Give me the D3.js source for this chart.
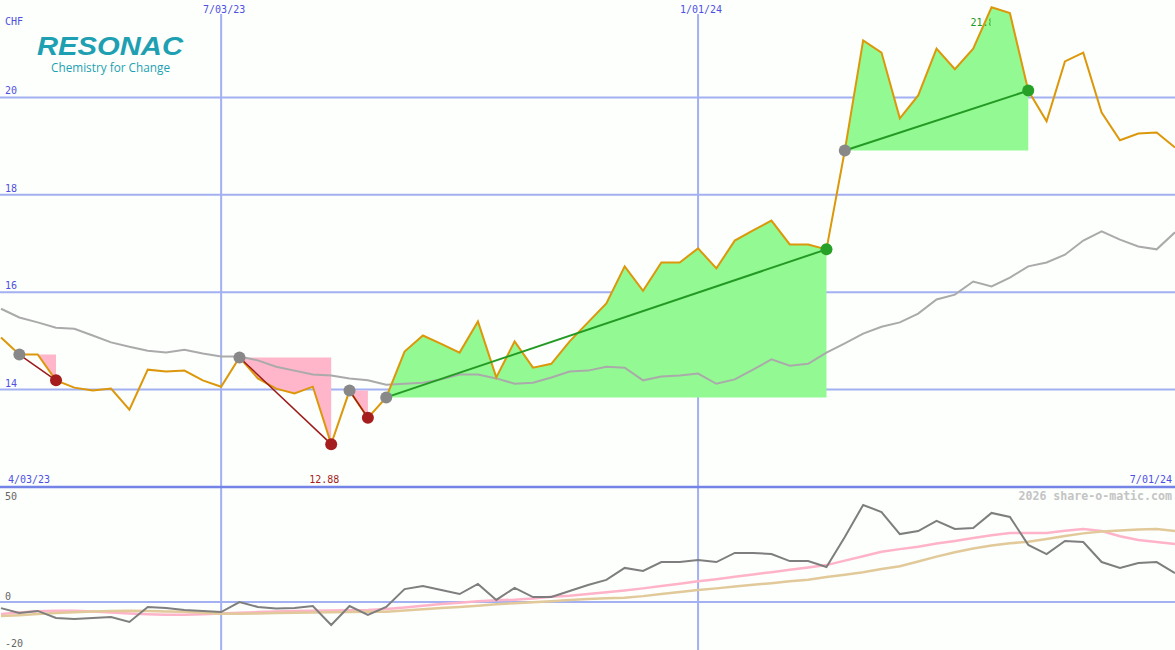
<!DOCTYPE html>
<html>
<head>
<meta charset="utf-8">
<script src="https://cdn.jsdelivr.net/npm/d3@7"></script>
<style>
  html, body { margin: 0; padding: 0; background: #fcfffc; }
  svg { display: block; }
</style>
</head>
<body>
<svg id="chart" width="1175" height="650"></svg>
<script>
// ---------------- DATA ----------------
const firstWeek = Date.UTC(2023, 3, 10);   // first weekly point
const lastWeek = Date.UTC(2024, 6, 1);     // last weekly point

// weekly closing price (CHF)
const prices = [15.07, 14.72, 14.72, 14.19, 14.04, 13.98, 14.02, 13.59, 14.41, 14.37,
  14.39, 14.19, 14.06, 14.66, 14.23, 14.02, 13.92, 14.06, 12.88, 13.98,
  13.42, 13.84, 14.78, 15.11, 14.94, 14.76, 15.40, 14.25, 14.99, 14.45,
  14.53, 14.99, 15.38, 15.77, 16.53, 16.03, 16.61, 16.61, 16.90, 16.49,
  17.06, 17.27, 17.47, 16.98, 16.98, 16.88, 18.91, 21.17, 20.92, 19.57,
  20.04, 21.00, 20.58, 21.00, 21.85, 21.73, 20.14, 19.51, 20.74, 20.92,
  19.69, 19.12, 19.26, 19.28, 18.97];

// moving average of price (grey line)
const movingAvg = [15.66, 15.48, 15.38, 15.27, 15.25, 15.11, 14.97, 14.88, 14.80, 14.76,
  14.82, 14.74, 14.68, 14.68, 14.60, 14.47, 14.39, 14.31, 14.29, 14.23,
  14.19, 14.10, 14.12, 14.14, 14.21, 14.31, 14.31, 14.23, 14.12, 14.14,
  14.25, 14.37, 14.39, 14.47, 14.45, 14.19, 14.27, 14.29, 14.33, 14.12,
  14.21, 14.41, 14.62, 14.49, 14.53, 14.76, 14.95, 15.15, 15.29, 15.38,
  15.56, 15.85, 15.95, 16.22, 16.12, 16.30, 16.53, 16.61, 16.77, 17.06,
  17.25, 17.08, 16.94, 16.88, 17.23];

// lower panel: oscillator (dark grey) and its two averages (pink, tan)
const oscillator = [-2.6, -4.7, -3.8, -6.8, -7.2, -6.8, -6.4, -8.5, -2.1, -2.6,
  -3.4, -3.8, -4.3, 0.0, -2.1, -2.8, -2.6, -1.7, -9.8, -1.7,
  -5.5, -2.1, 5.5, 6.8, 5.1, 3.4, 7.7, 0.9, 6.0, 2.1,
  2.1, 4.7, 7.2, 9.4, 14.5, 13.2, 17.0, 17.0, 17.9, 17.0,
  20.9, 20.9, 20.4, 17.4, 17.4, 14.9, 27.7, 41.3, 38.3, 28.9,
  30.2, 34.5, 31.1, 31.5, 37.9, 36.2, 24.3, 20.4, 26.0, 25.5,
  17.0, 14.5, 16.6, 17.0, 12.3];
const oscFast = [-5.1, -4.5, -3.9, -3.7, -3.7, -4.0, -4.5, -4.9, -5.2, -5.4,
  -5.4, -5.2, -4.9, -4.6, -4.3, -4.0, -3.8, -3.7, -3.6, -3.5,
  -3.4, -3.0, -2.3, -1.6, -0.9, -0.3, 0.3, 0.7, 1.0, 1.5,
  2.2, 2.7, 3.4, 4.1, 4.9, 5.8, 6.8, 7.8, 8.8, 9.7,
  10.7, 11.7, 12.7, 13.7, 14.7, 15.7, 17.6, 19.5, 21.4, 22.5,
  23.5, 24.9, 26.0, 27.2, 28.4, 29.4, 29.4, 29.4, 30.3, 31.1,
  30.2, 28.0, 26.4, 25.5, 24.7];
const oscSlow = [-6.0, -5.6, -5.1, -4.7, -4.4, -4.0, -3.8, -3.7, -3.8, -4.0,
  -4.1, -4.6, -5.0, -5.0, -4.9, -4.7, -4.6, -4.5, -4.4, -4.3,
  -4.2, -4.1, -3.6, -3.1, -2.6, -2.1, -1.6, -1.0, -0.5, -0.1,
  0.3, 0.8, 1.3, 1.6, 1.8, 2.5, 3.4, 4.3, 5.1, 5.8,
  6.6, 7.3, 8.0, 8.8, 9.5, 10.6, 11.6, 12.7, 14.0, 15.2,
  17.2, 19.3, 21.2, 22.8, 24.0, 25.0, 25.6, 26.8, 28.1, 29.2,
  30.0, 30.4, 30.9, 31.1, 30.2];

// trades (week indices): entry -> exit
const tradeEntry = [1, 13, 19, 21, 46];
const tradeExit = [3, 18, 20, 45, 56];

// tick labels
const priceTicks = [14, 16, 18, 20];
const oscTicks = [50, 0, -20];
const dateTickValues = [Date.UTC(2023, 6, 3), Date.UTC(2024, 0, 1)];
const dateTickLabels = ["7/03/23", "1/01/24"];
const startLabel = "4/03/23";
const endLabel = "7/01/24";
const lowLabel = "12.88";
const highLabel = "21.85";
const currencyLabel = "CHF";

// ---------------- CHART ----------------
const W = 1175, H = 650;
const svg = d3.select("#chart");
const mono = "'DejaVu Sans Mono', 'Liberation Mono', monospace";

const dates = prices.map((_, i) => new Date(firstWeek + i * 7 * 86400000));
const x = d3.scaleUtc().domain([new Date(firstWeek), new Date(lastWeek)]).range([1, 1175]);
const y = d3.scaleLinear().domain([12, 22]).range([487, 0]);
const yo = d3.scaleLinear().domain([0, 50]).range([602, 484.5]);

svg.append("rect").attr("width", W).attr("height", H).attr("fill", "#fcfffc");

const gridColor = "#a3b1f2";
// horizontal price grid
svg.append("g").selectAll("line").data(priceTicks).join("line")
  .attr("x1", 0).attr("x2", W)
  .attr("y1", d => y(d)).attr("y2", d => y(d))
  .attr("stroke", gridColor).attr("stroke-width", 2);
// vertical date grid
svg.append("g").selectAll("line").data(dateTickValues).join("line")
  .attr("x1", d => x(new Date(d))).attr("x2", d => x(new Date(d)))
  .attr("y1", 14).attr("y2", H)
  .attr("stroke", gridColor).attr("stroke-width", 2);
// oscillator zero line
svg.append("line").attr("x1", 0).attr("x2", W).attr("y1", yo(0)).attr("y2", yo(0))
  .attr("stroke", gridColor).attr("stroke-width", 2);
// panel separator
svg.append("line").attr("x1", 0).attr("x2", W).attr("y1", 487).attr("y2", 487)
  .attr("stroke", "#7484e6").attr("stroke-width", 2.5);

// labels
const labelBlue = "#4f50e2";
svg.append("g").selectAll("text").data(priceTicks).join("text")
  .attr("x", 5).attr("y", d => y(d) - 3)
  .attr("font-family", mono).attr("font-size", 10).attr("fill", labelBlue)
  .text(d => d);
svg.append("text").attr("x", 5).attr("y", 25)
  .attr("font-family", mono).attr("font-size", 10).attr("fill", labelBlue).text(currencyLabel);
svg.append("g").selectAll("text").data(dateTickValues).join("text")
  .attr("x", d => x(new Date(d)) + 3).attr("y", 13).attr("text-anchor", "middle")
  .attr("font-family", mono).attr("font-size", 10).attr("fill", labelBlue)
  .text((d, i) => dateTickLabels[i]);
svg.append("text").attr("x", 8).attr("y", 483)
  .attr("font-family", mono).attr("font-size", 10).attr("fill", labelBlue).text(startLabel);
svg.append("text").attr("x", 1172).attr("y", 483).attr("text-anchor", "end")
  .attr("font-family", mono).attr("font-size", 10).attr("fill", labelBlue).text(endLabel);
svg.append("g").selectAll("text").data(oscTicks).join("text")
  .attr("x", 5).attr("y", d => Math.max(500, yo(d) - 2))
  .attr("font-family", mono).attr("font-size", 10).attr("fill", "#666")
  .text(d => d);
svg.append("text").attr("x", 1172).attr("y", 500).attr("text-anchor", "end")
  .attr("font-family", mono).attr("font-size", 11.6).attr("font-weight", "bold")
  .attr("fill", "#c4c4c4").text("2026 share-o-matic.com");

// logo
svg.append("text").attr("x", 37).attr("y", 55)
  .attr("font-family", "'Liberation Sans', Arial, sans-serif").attr("font-size", 26)
  .attr("font-weight", "bold").attr("font-style", "italic").attr("fill", "#1f9fb2")
  .attr("textLength", 146).attr("lengthAdjust", "spacingAndGlyphs").text("RESONAC");
svg.append("text").attr("x", 51).attr("y", 72)
  .attr("font-family", "'Open Sans', 'Noto Sans', sans-serif").attr("font-size", 12)
  .attr("fill", "#1f9fb2").attr("textLength", 119).attr("lengthAdjust", "spacingAndGlyphs")
  .text("Chemistry for Change");

// high / low labels
const iLow = prices.indexOf(d3.min(prices));
const iHigh = prices.indexOf(d3.max(prices));
svg.append("text").attr("x", x(dates[iLow]) - 7).attr("y", 483).attr("text-anchor", "middle")
  .attr("font-family", mono).attr("font-size", 10).attr("fill", "#a51d1d").text(lowLabel);

// trade fills
const trades = tradeEntry.map((e, k) => ({
  entry: e, exit: tradeExit[k],
  win: prices[tradeExit[k]] > prices[e]
}));
const area = d3.area().x(d => x(d.date)).y1(d => y(d.price));
trades.forEach(t => {
  const pts = d3.range(t.entry, t.exit + 1).map(i => ({ date: dates[i], price: prices[i] }));
  svg.append("path").datum(pts)
    .attr("d", area.y0(y(prices[t.entry])))
    .attr("fill", t.win ? "#93f993" : "#ffb6ca");
});

// high label, clipped at the peak
svg.append("clipPath").attr("id", "hiclip").append("rect")
  .attr("x", 0).attr("y", 0).attr("width", x(dates[iHigh]) - 1).attr("height", 40);
svg.append("text").attr("x", x(dates[iHigh]) - 21).attr("y", 26)
  .attr("clip-path", "url(#hiclip)")
  .attr("font-family", mono).attr("font-size", 10).attr("fill", "#229922").text(highLabel);

// moving average
const line = d3.line().x((d, i) => x(dates[i])).y(d => y(d));
svg.append("path").datum(movingAvg).attr("d", line)
  .attr("fill", "none").attr("stroke", "#aaaaaa").attr("stroke-width", 2);
// price
svg.append("path").datum(prices).attr("d", line)
  .attr("fill", "none").attr("stroke", "#dc970a").attr("stroke-width", 2);

// trade lines and dots
trades.forEach(t => {
  svg.append("line")
    .attr("x1", x(dates[t.entry])).attr("y1", y(prices[t.entry]))
    .attr("x2", x(dates[t.exit])).attr("y2", y(prices[t.exit]))
    .attr("stroke", t.win ? "#239a23" : "#9c1a1a").attr("stroke-width", t.win ? 2 : 1.5);
});
trades.forEach(t => {
  svg.append("circle").attr("cx", x(dates[t.entry])).attr("cy", y(prices[t.entry]))
    .attr("r", 6).attr("fill", "#888888");
  svg.append("circle").attr("cx", x(dates[t.exit])).attr("cy", y(prices[t.exit]))
    .attr("r", 6).attr("fill", t.win ? "#27a027" : "#a51d1d");
});

// lower panel
const oline = d3.line().x((d, i) => x(dates[i])).y(d => yo(d));
svg.append("path").datum(oscFast).attr("d", oline)
  .attr("fill", "none").attr("stroke", "#ffb3c9").attr("stroke-width", 2.5);
svg.append("path").datum(oscSlow).attr("d", oline)
  .attr("fill", "none").attr("stroke", "#e2c99a").attr("stroke-width", 2.5);
svg.append("path").datum(oscillator).attr("d", oline)
  .attr("fill", "none").attr("stroke", "#7e7e7e").attr("stroke-width", 2);
</script>
</body>
</html>
